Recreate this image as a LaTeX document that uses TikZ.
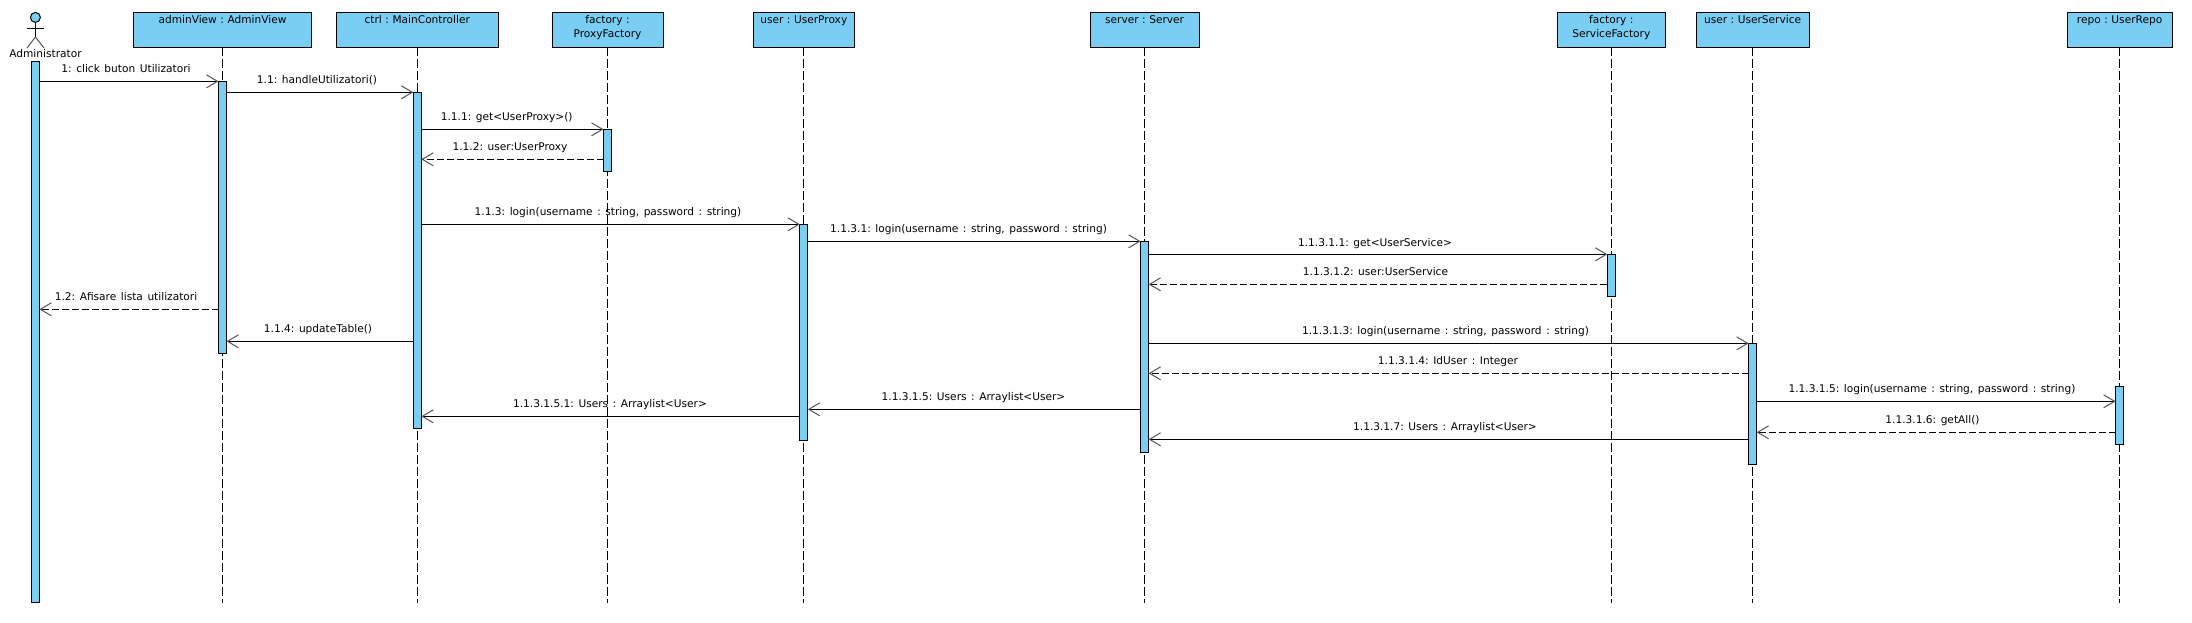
\documentclass[tikz,border=0pt]{standalone}
\usepackage{fontspec}
\setmainfont[WordSpace=1.35]{DejaVu Sans}
\usetikzlibrary{arrows.meta}
\definecolor{objblue}{HTML}{7ACEF4}
\definecolor{tipgray}{HTML}{555555}
\tikzset{
  objbox/.style={draw=black,line width=1pt,fill=objblue,text width=#1,align=center,anchor=north,
    inner sep=0pt,outer sep=0pt,text height=11pt,text depth=24pt},
  lifeline/.style={line width=1pt,dash pattern=on 9pt off 3pt},
  acti/.style={draw=black,line width=1pt,fill=objblue,minimum width=8pt,inner sep=0pt,outer sep=0pt,anchor=north},
  msg/.style={line width=1pt,-{Straight Barb[length=11pt,width=13pt,color=tipgray,line width=1pt]}},
  reply/.style={msg,dash pattern=on 7pt off 3pt},
  lbl/.style={inner sep=0pt,text height=9pt,text depth=1.2pt}
}
\begin{document}
\begin{tikzpicture}[x=1pt,y=-1pt,font=\fontsize{10.6}{14}\selectfont\frenchspacing]
\useasboundingbox (0,0) rectangle (2192,622);
% objects
\node[objbox=178.3pt] (objAdmin) at (222.5,12.3) {adminView : AdminView};
\node[objbox=162pt] (objCtrl) at (417.3,12.3) {ctrl : MainController};
\node[objbox=111pt] (objProxyFac) at (607.5,12.3) {factory :\\ProxyFactory};
\node[objbox=101pt] (objUserProxy) at (803.8,12.3) {user : UserProxy};
\node[objbox=109pt] (objServer) at (1144.6,12.3) {server : Server};
\node[objbox=107.5pt] (objServiceFac) at (1611.3,12.3) {factory :\\ServiceFactory};
\node[objbox=113pt] (objUserService) at (1752.6,12.3) {user : UserService};
\node[objbox=105pt] (objRepo) at (2119.6,12.3) {repo : UserRepo};
% actor
\node[circle,draw=black,line width=1pt,fill=objblue,minimum size=10pt,inner sep=0pt] (actorHead) at (35.4,17.4) {};
\coordinate (actorHip) at (35.4,37);
\coordinate (armL) at (27,28.5);
\coordinate (armR) at (44,28.5);
\coordinate (legL) at (27,48);
\coordinate (legR) at (44,48);
\draw[line width=1pt] (actorHead.south) -- (actorHip);
\draw[line width=1pt] (armL) -- (armR);
\draw[line width=1pt,color=tipgray] (legL) -- (actorHip) -- (legR);
\node[lbl] (actorName) at (45.5,54) {Administrator};
% lifelines
\coordinate (endAdmin) at (objAdmin.south |- 0,603);
\coordinate (endCtrl) at (objCtrl.south |- 0,603);
\coordinate (endProxyFac) at (objProxyFac.south |- 0,603);
\coordinate (endUserProxy) at (objUserProxy.south |- 0,603);
\coordinate (endServer) at (objServer.south |- 0,603);
\coordinate (endServiceFac) at (objServiceFac.south |- 0,603);
\coordinate (endUserService) at (objUserService.south |- 0,603);
\coordinate (endRepo) at (objRepo.south |- 0,603);
\draw[lifeline] (objAdmin.south) -- (endAdmin);
\draw[lifeline] (objCtrl.south) -- (endCtrl);
\draw[lifeline] (objProxyFac.south) -- (endProxyFac);
\draw[lifeline] (objUserProxy.south) -- (endUserProxy);
\draw[lifeline] (objServer.south) -- (endServer);
\draw[lifeline] (objServiceFac.south) -- (endServiceFac);
\draw[lifeline] (objUserService.south) -- (endUserService);
\draw[lifeline] (objRepo.south) -- (endRepo);
% activations
\node[acti,minimum height=540.7pt] (acActor) at (35.4,61.3) {};
\node[acti,minimum height=272.4pt] (acAdmin) at (objAdmin.south |- 0,81.3) {};
\node[acti,minimum height=336.4pt] (acCtrl) at (objCtrl.south |- 0,92.3) {};
\node[acti,minimum height=42.4pt] (acProxyFac) at (objProxyFac.south |- 0,129.3) {};
\node[acti,minimum height=216.4pt] (acUserProxy) at (objUserProxy.south |- 0,224.3) {};
\node[acti,minimum height=211pt] (acServer) at (objServer.south |- 0,241.3) {};
\node[acti,minimum height=42pt] (acServiceFac) at (objServiceFac.south |- 0,254.3) {};
\node[acti,minimum height=121pt] (acUserService) at (objUserService.south |- 0,343.3) {};
\node[acti,minimum height=58pt] (acRepo) at (objRepo.south |- 0,386.3) {};
% messages
\draw[msg] (acActor.east |- 0,81.3) -- (acAdmin.west |- 0,81.3);
\node[lbl] (l1) at (126,69) {1: click buton Utilizatori};
\draw[msg] (acAdmin.east |- 0,92.3) -- (acCtrl.west |- 0,92.3);
\node[lbl] (l11) at (317,80) {1.1: handleUtilizatori()};
\draw[msg] (acCtrl.east |- 0,129.3) -- (acProxyFac.west |- 0,129.3);
\node[lbl] (l111) at (506.7,117) {1.1.1: get<UserProxy>()};
\draw[reply] (acProxyFac.west |- 0,159.3) -- (acCtrl.east |- 0,159.3);
\node[lbl] (l112) at (510,147) {1.1.2: user:UserProxy};
\draw[msg] (acCtrl.east |- 0,224.3) -- (acUserProxy.west |- 0,224.3);
\node[lbl] (l113) at (608,212) {1.1.3: login(username : string, password : string)};
\draw[msg] (acUserProxy.east |- 0,241.3) -- (acServer.west |- 0,241.3);
\node[lbl] (l1131) at (968.6,229) {1.1.3.1: login(username : string, password : string)};
\draw[msg] (acServer.east |- 0,254.3) -- (acServiceFac.west |- 0,254.3);
\node[lbl] (l11311) at (1375,242.7) {1.1.3.1.1: get<UserService>};
\draw[reply] (acServiceFac.west |- 0,284.3) -- (acServer.east |- 0,284.3);
\node[lbl] (l11312) at (1375.5,272) {1.1.3.1.2: user:UserService};
\draw[msg] (acServer.east |- 0,343.3) -- (acUserService.west |- 0,343.3);
\node[lbl] (l11313) at (1445.5,331) {1.1.3.1.3: login(username : string, password : string)};
\draw[reply] (acUserService.west |- 0,373.3) -- (acServer.east |- 0,373.3);
\node[lbl] (l11314) at (1448,361) {1.1.3.1.4: IdUser : Integer};
\draw[msg] (acUserService.east |- 0,401.3) -- (acRepo.west |- 0,401.3);
\node[lbl] (l11315) at (1932,389) {1.1.3.1.5: login(username : string, password : string)};
\draw[reply] (acRepo.west |- 0,432.3) -- (acUserService.east |- 0,432.3);
\node[lbl] (l11316) at (1932.5,420) {1.1.3.1.6: getAll()};
\draw[msg] (acUserService.west |- 0,439.3) -- (acServer.east |- 0,439.3);
\node[lbl] (l11317) at (1445,427) {1.1.3.1.7: Users : Arraylist<User>};
\draw[msg] (acServer.west |- 0,409.3) -- (acUserProxy.east |- 0,409.3);
\node[lbl] (l113u) at (973.5,397) {1.1.3.1.5: Users : Arraylist<User>};
\draw[msg] (acUserProxy.west |- 0,416.3) -- (acCtrl.east |- 0,416.3);
\node[lbl] (l113151) at (610,404) {1.1.3.1.5.1: Users : Arraylist<User>};
\draw[reply] (acAdmin.west |- 0,309.3) -- (acActor.east |- 0,309.3);
\node[lbl] (l12) at (126,297) {1.2: Afisare lista utilizatori};
\draw[msg] (acCtrl.west |- 0,341.3) -- (acAdmin.east |- 0,341.3);
\node[lbl] (l114) at (318,329) {1.1.4: updateTable()};
\end{tikzpicture}
\end{document}
